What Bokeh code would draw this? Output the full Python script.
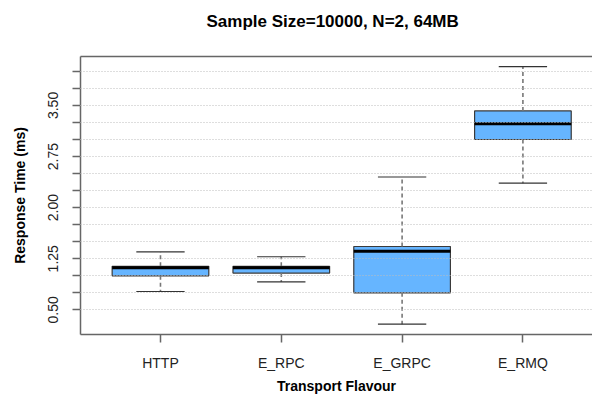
from bokeh.plotting import figure
from bokeh.models import FixedTicker, LinearAxis, Range1d, ColumnDataSource
from bokeh.embed import file_html
from bokeh.resources import INLINE

# ---- data ----
categories = ["HTTP", "E_RPC", "E_GRPC", "E_RMQ"]
lower = [0.77, 0.91, 0.29, 2.36]
q1 = [1.00, 1.04, 0.75, 3.00]
median = [1.12, 1.12, 1.36, 3.23]
q3 = [1.14, 1.14, 1.43, 3.42]
upper = [1.35, 1.28, 2.45, 4.07]

y_ticks = [0.50, 0.75, 1.00, 1.25, 1.50, 1.75, 2.00, 2.25, 2.50, 2.75, 3.00, 3.25, 3.50, 3.75, 4.00]
y_labeled = ["0.50", "1.25", "2.00", "2.75", "3.50"]

title_text = "Sample Size=10000, N=2, 64MB"
x_title = "Transport Flavour"
y_title = "Response Time (ms)"

# ---- derived ----
xs = [i + 1 for i in range(len(categories))]
hw = 0.4   # box half width
cw = 0.2   # cap half width
src = ColumnDataSource(dict(
    x=xs, left=[x - hw for x in xs], right=[x + hw for x in xs],
    cl=[x - cw for x in xs], cr=[x + cw for x in xs],
    lower=lower, q1=q1, median=median, q3=q3, upper=upper,
))

FONT = "Liberation Sans"
p = figure(width=592, height=396, output_backend="svg", toolbar_location=None,
           x_range=Range1d(0.338, 4.576), y_range=Range1d(0.139, 4.218),
           min_border_left=80, min_border_right=0, min_border_top=56, min_border_bottom=58,
           x_axis_location=None, y_axis_location=None)
p.outline_line_color = None
p.xgrid.visible = False
p.background_fill_color = "white"
p.border_fill_color = "white"

# title (a blank second line lifts the text higher above the frame)
p.title.text = title_text + "\n\u00a0"
p.title.align = "left"
p.title.offset = 126
p.title.text_font = FONT
p.title.text_font_style = "bold"
p.title.text_font_size = "17px"
p.title.text_color = "black"
p.title.vertical_align = "bottom"
p.title.standoff = 14

# boxes
p.quad(left="left", right="right", bottom="q1", top="q3", source=src,
       fill_color="#66B5FF", line_color="#3A3A3A", line_width=1.2)
# whiskers
p.segment(x0="x", y0="q3", x1="x", y1="upper", source=src,
          line_color="#777777", line_width=1.6, line_dash="4 3")
p.segment(x0="x", y0="q1", x1="x", y1="lower", source=src,
          line_color="#777777", line_width=1.6, line_dash="4 3")
# caps
p.segment(x0="cl", y0="upper", x1="cr", y1="upper", source=src,
          line_color="#333333", line_width=1.2)
p.segment(x0="cl", y0="lower", x1="cr", y1="lower", source=src,
          line_color="#333333", line_width=1.2)
# medians
p.segment(x0="left", y0="median", x1="right", y1="median", source=src,
          line_color="black", line_width=3)

# grid on top
p.ygrid.ticker = FixedTicker(ticks=y_ticks)
p.ygrid.grid_line_color = "#BDBDBD"
p.ygrid.grid_line_dash = "1 2"
p.ygrid.grid_line_width = 1
p.ygrid.level = "annotation"

AX = "#666666"
# x axis
xa = LinearAxis(ticker=FixedTicker(ticks=xs),
                major_label_overrides={x: c for x, c in zip(xs, categories)})
xa.axis_line_color = AX
xa.axis_line_width = 1.5
xa.major_tick_line_color = AX
xa.major_tick_line_width = 1.5
xa.major_tick_out = 8
xa.major_tick_in = 0
xa.minor_tick_line_color = None
xa.major_label_text_font = FONT
xa.major_label_text_font_size = "14px"
xa.major_label_text_color = "#222222"
xa.major_label_standoff = 12
xa.axis_label = x_title
xa.axis_label_text_font = FONT
xa.axis_label_text_font_style = "bold"
xa.axis_label_text_font_size = "14px"
xa.axis_label_text_color = "black"
xa.axis_label_standoff = 4
p.add_layout(xa, "below")

# y axis
overrides = {}
for t in y_ticks:
    s = "%.2f" % t
    overrides[t] = s if s in y_labeled else ""
ya = LinearAxis(ticker=FixedTicker(ticks=y_ticks), major_label_overrides=overrides)
ya.axis_line_color = AX
ya.axis_line_width = 1.5
ya.major_tick_line_color = AX
ya.major_tick_line_width = 1.5
ya.major_tick_out = 8
ya.major_tick_in = 0
ya.minor_tick_line_color = None
ya.major_label_orientation = "vertical"
ya.major_label_text_font = FONT
ya.major_label_text_font_size = "14px"
ya.major_label_text_color = "#222222"
ya.major_label_standoff = 14
ya.axis_label = y_title
ya.axis_label_text_font = FONT
ya.axis_label_text_font_style = "bold"
ya.axis_label_text_font_size = "14px"
ya.axis_label_text_color = "black"
ya.axis_label_standoff = 18
p.add_layout(ya, "left")

# top border line
ta = LinearAxis(ticker=FixedTicker(ticks=[]))
ta.axis_line_color = AX
ta.axis_line_width = 1.5
ta.major_tick_line_color = None
ta.minor_tick_line_color = None
ta.major_tick_out = 0
ta.major_tick_in = 0
ta.major_label_standoff = 0
ta.major_label_text_font_size = "0px"
p.add_layout(ta, "above")

open("out.html", "w").write(file_html(p, INLINE))
